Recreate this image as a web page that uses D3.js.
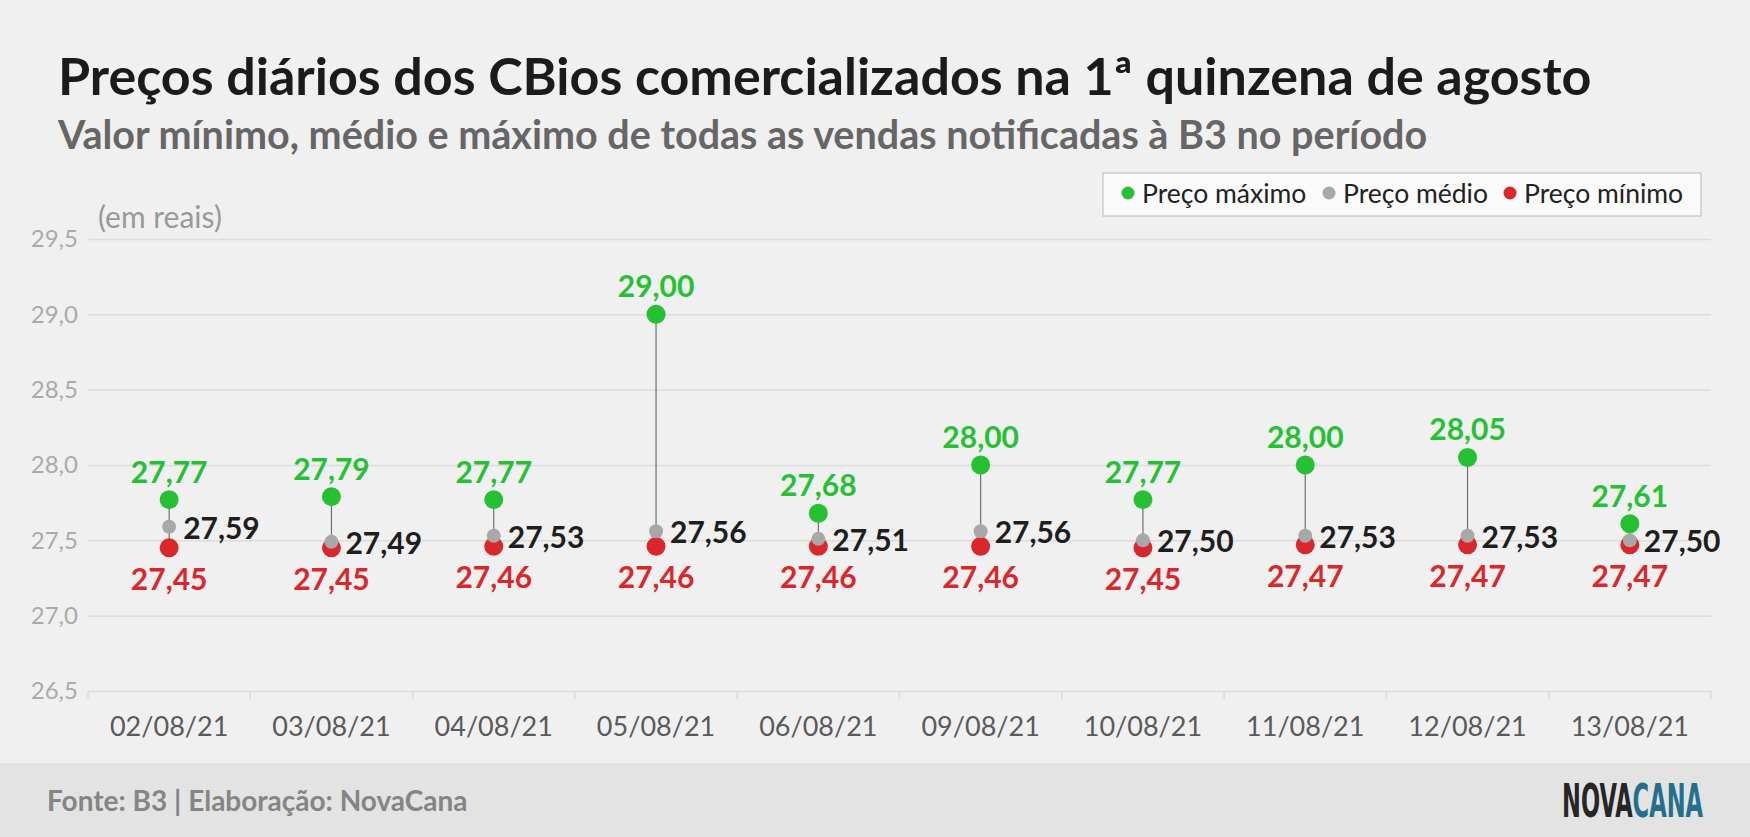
<!DOCTYPE html>
<html lang="pt">
<head>
<meta charset="UTF-8">
<script src="https://cdn.jsdelivr.net/npm/d3@7"></script>
<title>Preços diários dos CBios</title>
<style>
  body { margin: 0; background: #f0f0f0; }
  svg { display: block; font-family: Lato, "Open Sans", sans-serif; }
</style>
</head>
<body>
<div id="chart"></div>
<script>
// data
const dates = ["02/08/21", "03/08/21", "04/08/21", "05/08/21", "06/08/21",
               "09/08/21", "10/08/21", "11/08/21", "12/08/21", "13/08/21"];
const precoMax = [27.77, 27.79, 27.77, 29.00, 27.68, 28.00, 27.77, 28.00, 28.05, 27.61];
const precoMed = [27.59, 27.49, 27.53, 27.56, 27.51, 27.56, 27.50, 27.53, 27.53, 27.50];
const precoMin = [27.45, 27.45, 27.46, 27.46, 27.46, 27.46, 27.45, 27.47, 27.47, 27.47];
const yTicks = [26.5, 27.0, 27.5, 28.0, 28.5, 29.0, 29.5];
const legendItems = ["Preço máximo", "Preço médio", "Preço mínimo"];

const W = 1750, H = 837;
const green = "#25c133", grey = "#a8a8a8", red = "#d9272c";

const svg = d3.select("#chart").append("svg")
    .attr("width", W).attr("height", H);

svg.append("rect").attr("width", W).attr("height", H).attr("fill", "#f0f0f0");
svg.append("rect").attr("y", 763).attr("width", W).attr("height", H - 763).attr("fill", "#e3e3e3");

// titles
svg.append("text").attr("x", 58).attr("y", 95)
    .attr("font-size", 52).attr("font-weight", 700).attr("fill", "#1b1b1b")
    .text("Preços diários dos CBios comercializados na 1ª quinzena de agosto");
svg.append("text").attr("x", 58).attr("y", 149)
    .attr("font-size", 39.5).attr("font-weight", 700).attr("fill", "#666")
    .text("Valor mínimo, médio e máximo de todas as vendas notificadas à B3 no período");

// scales
const x = d3.scaleBand().domain(dates).range([88, 1711]);
const y = d3.scaleLinear().domain([26.5, 29.5]).range([691, 239]);
const fmt = v => d3.format(".2f")(v).replace(".", ",");

// y grid + labels
const yAxis = svg.append("g").attr("transform", "translate(88,0)")
    .call(d3.axisLeft(y).tickValues(yTicks).tickSize(-(1711 - 88)).tickPadding(10)
        .tickFormat(v => d3.format(".1f")(v).replace(".", ",")));
yAxis.select(".domain").remove();
yAxis.selectAll("line").attr("stroke", "#dcdcdc").attr("stroke-width", 1.5);
yAxis.selectAll("text").attr("font-family", "Lato").attr("font-size", 24).attr("fill", "#aaa");

svg.append("text").attr("x", 98).attr("y", 228)
    .attr("font-size", 30).attr("fill", "#999").text("(em reais)");

// x axis labels and boundary ticks
const xAxis = svg.append("g").attr("transform", "translate(0,691)")
    .call(d3.axisBottom(x).tickSize(0).tickPadding(26));
xAxis.select(".domain").remove();
xAxis.selectAll("text").attr("font-family", "Lato").attr("font-size", 27).attr("fill", "#5a5a5a");

const bounds = dates.map(d => x(d)).concat([x.range()[1]]);
svg.append("g").selectAll("line").data(bounds).join("line")
    .attr("x1", d => d).attr("x2", d => d)
    .attr("y1", 691).attr("y2", 699)
    .attr("stroke", "#dcdcdc").attr("stroke-width", 1.5);

// marks
const rows = dates.map((d, i) => ({ date: d, max: precoMax[i], med: precoMed[i], min: precoMin[i] }));
const cx = d => x(d.date) + x.bandwidth() / 2;

const g = svg.append("g");
g.selectAll(".stem").data(rows).join("line")
    .attr("x1", cx).attr("x2", cx)
    .attr("y1", d => y(d.max)).attr("y2", d => y(d.min))
    .attr("stroke", "#707070").attr("stroke-width", 1.2);

g.selectAll(".dmin").data(rows).join("circle")
    .attr("cx", cx).attr("cy", d => y(d.min)).attr("r", 9.5).attr("fill", red);
g.selectAll(".dmed").data(rows).join("circle")
    .attr("cx", cx).attr("cy", d => y(d.med)).attr("r", 7).attr("fill", grey);
g.selectAll(".dmax").data(rows).join("circle")
    .attr("cx", cx).attr("cy", d => y(d.max)).attr("r", 9.5).attr("fill", green);

// value labels
g.selectAll(".lmax").data(rows).join("text")
    .attr("x", cx).attr("y", d => y(d.max) - 17)
    .attr("text-anchor", "middle").attr("font-size", 30).attr("font-weight", 700)
    .attr("fill", green).text(d => fmt(d.max));
g.selectAll(".lmed").data(rows).join("text")
    .attr("x", d => cx(d) + 14).attr("y", d => y(d.med) + 12)
    .attr("font-size", 30).attr("font-weight", 700)
    .attr("fill", "#1e1e1e").text(d => fmt(d.med));
g.selectAll(".lmin").data(rows).join("text")
    .attr("x", cx).attr("y", d => y(d.min) + 42)
    .attr("text-anchor", "middle").attr("font-size", 30).attr("font-weight", 700)
    .attr("fill", red).text(d => fmt(d.min));

// legend
svg.append("rect").attr("x", 1103).attr("y", 173).attr("width", 598).attr("height", 43)
    .attr("fill", "#fafafa").attr("stroke", "#c4c4c4").attr("stroke-width", 1.2);
const legX = [1128, 1329, 1510];
const legC = [green, grey, red];
const leg = svg.append("g").selectAll("g").data(legendItems).join("g");
leg.append("circle").attr("cx", (d, i) => legX[i]).attr("cy", 193).attr("r", 6.5)
    .attr("fill", (d, i) => legC[i]);
leg.append("text").attr("x", (d, i) => legX[i] + 14).attr("y", 203)
    .attr("font-size", 26.5).attr("fill", "#222").text(d => d);

// footer
svg.append("text").attr("x", 47).attr("y", 811)
    .attr("font-size", 28).attr("font-weight", 700).attr("fill", "#858585")
    .text("Fonte: B3 | Elaboração: NovaCana");

const logo = svg.append("text").attr("x", 1562).attr("y", 817)
    .attr("font-family", "'DejaVu Sans Condensed', 'DejaVu Sans', sans-serif")
    .attr("font-size", 46).attr("font-weight", 700)
    .attr("textLength", 141).attr("lengthAdjust", "spacingAndGlyphs");
logo.append("tspan").attr("fill", "#262626").text("NOVA");
logo.append("tspan").attr("fill", "#246f8b").text("CANA");
</script>
</body>
</html>
